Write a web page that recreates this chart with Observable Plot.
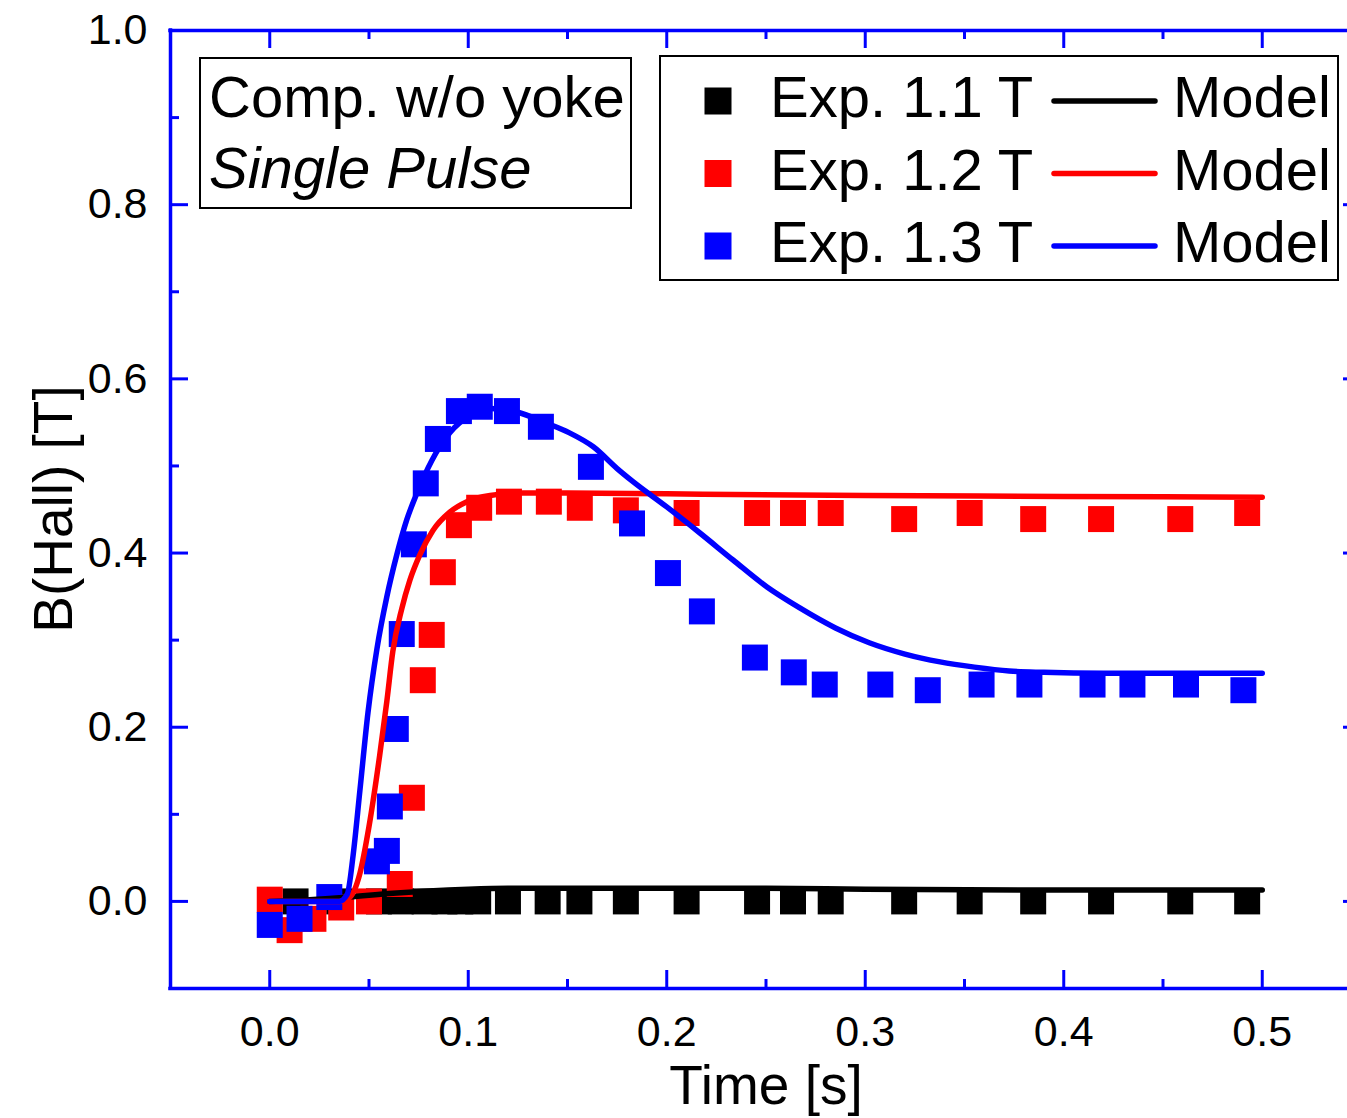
<!DOCTYPE html>
<html><head><meta charset="utf-8">
<script src="https://cdn.jsdelivr.net/npm/d3@7"></script>
<script src="https://cdn.jsdelivr.net/npm/@observablehq/plot@0.6"></script>
<style>html,body{margin:0;padding:0;background:#fff;} svg{display:block}</style>
</head><body><div id="chart"></div><script>
// ---- data ----
const seriesNames = ["Exp. 1.1 T", "Exp. 1.2 T", "Exp. 1.3 T"];
const modelName = "Model";
const seriesColors = ["#000000", "#ff0000", "#0000ff"];

const exp11X = [0.013, 0.035, 0.055, 0.066, 0.078, 0.088, 0.096, 0.105, 0.120, 0.140, 0.156, 0.1794, 0.210, 0.2455, 0.2636, 0.2826, 0.3196, 0.3526, 0.3846, 0.4188, 0.4587, 0.4924];
const exp11Y = [0.000, 0.000, 0.000, 0.000, 0.000, 0.000, 0.000, 0.000, 0.000, 0.000, 0.000, 0.000, 0.000, 0.000, 0.000, 0.000, 0.000, 0.000, 0.000, 0.000, 0.000, 0.000];

const exp12X = [0.000, 0.010, 0.022, 0.036, 0.050, 0.0655, 0.0716, 0.0771, 0.0816, 0.0872, 0.0953, 0.1055, 0.1205, 0.1406, 0.1562, 0.1794, 0.210, 0.2455, 0.2636, 0.2826, 0.3196, 0.3526, 0.3846, 0.4188, 0.4587, 0.4924];
const exp12Y = [0.002, -0.033, -0.020, -0.007, 0.000, 0.020, 0.119, 0.254, 0.306, 0.378, 0.432, 0.452, 0.459, 0.459, 0.452, 0.449, 0.446, 0.446, 0.446, 0.446, 0.439, 0.446, 0.439, 0.439, 0.439, 0.446];

const exp13X = [0.000, 0.015, 0.030, 0.054, 0.059, 0.0605, 0.0635, 0.0665, 0.0726, 0.0786, 0.0847, 0.0953, 0.1058, 0.1195, 0.1366, 0.1618, 0.1825, 0.2006, 0.2177, 0.2444, 0.264, 0.2796, 0.3076, 0.3315, 0.3586, 0.3827, 0.4145, 0.4346, 0.4616, 0.4905];
const exp13Y = [-0.027, -0.020, 0.005, 0.046, 0.058, 0.109, 0.198, 0.307, 0.410, 0.480, 0.531, 0.563, 0.568, 0.563, 0.545, 0.499, 0.434, 0.377, 0.333, 0.280, 0.263, 0.249, 0.249, 0.2425, 0.249, 0.249, 0.249, 0.249, 0.249, 0.2425];

const model11X = [0, 0.02, 0.04, 0.06, 0.08, 0.10, 0.12, 0.15, 0.20, 0.25, 0.30, 0.40, 0.50];
const model11Y = [0, 0.002, 0.005, 0.009, 0.012, 0.014, 0.015, 0.015, 0.015, 0.015, 0.014, 0.013, 0.013];

const model12X = [0, 0.035, 0.040, 0.0454, 0.050, 0.0554, 0.059, 0.062, 0.0665, 0.0706, 0.0756, 0.0822, 0.0907, 0.0993, 0.111, 0.1275, 0.15, 0.20, 0.30, 0.40, 0.50];
const model12Y = [0, 0.000, 0.004, 0.032, 0.086, 0.168, 0.230, 0.287, 0.336, 0.369, 0.398, 0.426, 0.447, 0.459, 0.466, 0.469, 0.469, 0.468, 0.466, 0.465, 0.464];

const model13X = [0, 0.035, 0.039, 0.042, 0.0454, 0.0495, 0.054, 0.059, 0.064, 0.069, 0.074, 0.0816, 0.0907, 0.1008, 0.111, 0.1245, 0.1396, 0.151, 0.163, 0.175, 0.183, 0.200, 0.2167, 0.2334, 0.2505, 0.267, 0.285, 0.302, 0.320, 0.3377, 0.355, 0.3725, 0.39, 0.42, 0.45, 0.50];
const model13Y = [0, 0.000, 0.008, 0.053, 0.127, 0.217, 0.290, 0.350, 0.398, 0.438, 0.468, 0.506, 0.538, 0.558, 0.566, 0.562, 0.549, 0.538, 0.522, 0.497, 0.482, 0.453, 0.423, 0.392, 0.361, 0.337, 0.314, 0.297, 0.284, 0.275, 0.269, 0.2645, 0.263, 0.262, 0.262, 0.262];

const xDomain = [-0.05, 0.55];
const yDomain = [-0.1, 1.0];
const xMajor = [0, 0.1, 0.2, 0.3, 0.4, 0.5];
const xMinor = [0.05, 0.15, 0.25, 0.35, 0.45];
const yMajor = [0, 0.2, 0.4, 0.6, 0.8];
const yMinor = [0.1, 0.3, 0.5, 0.7, 0.9];
const yLabels = [0, 0.2, 0.4, 0.6, 0.8, 1.0];
const xTitle = "Time [s]";
const yTitle = "B(Hall) [T]";
const noteLines = ["Comp. w/o yoke", "Single Pulse"];

// ---- build ----
const FONT = "'Liberation Sans', Arial, Helvetica, sans-serif";
const BLUE = "#0000ff";
const zip = (xs, ys) => xs.map((x, i) => ({x, y: ys[i]}));
const expData = [zip(exp11X, exp11Y), zip(exp12X, exp12Y), zip(exp13X, exp13Y)];
const modelData = [zip(model11X, model11Y), zip(model12X, model12Y), zip(model13X, model13Y)];

const SQ = 26; // square side px
const rSq = SQ / Math.sqrt(Math.PI);
const MAJ = 18, MIN = 9;

function legendMark(index, scales, values, dimensions) {
  const {marginTop, marginBottom, height} = dimensions;
  const g = d3.create("svg:g").attr("font-family", FONT).attr("fill", "black").attr("text-anchor", "start");
  // y title
  g.append("text").attr("text-anchor", "middle").attr("font-size", 55)
    .attr("transform", `translate(72,${(marginTop + height - marginBottom) / 2}) rotate(-90)`).text(yTitle);
  // note box
  g.append("rect").attr("x", 200).attr("y", 58).attr("width", 431).attr("height", 150)
    .attr("fill", "white").attr("stroke", "black").attr("stroke-width", 2);
  g.append("text").attr("x", 209).attr("y", 117).attr("font-size", 58).text(noteLines[0]);
  g.append("text").attr("x", 209).attr("y", 188).attr("font-size", 58).attr("font-style", "italic").text(noteLines[1]);
  // series legend
  g.append("rect").attr("x", 660).attr("y", 56).attr("width", 678).attr("height", 224)
    .attr("fill", "white").attr("stroke", "black").attr("stroke-width", 2);
  seriesNames.forEach((name, i) => {
    const cy = 101 + 72.5 * i;
    g.append("rect").attr("x", 718 - 13.5).attr("y", cy - 13.5).attr("width", 27).attr("height", 27).attr("fill", seriesColors[i]);
    g.append("text").attr("x", 770).attr("y", cy + 16).attr("font-size", 58).text(name);
    g.append("line").attr("x1", 1054).attr("x2", 1155).attr("y1", cy).attr("y2", cy)
      .attr("stroke", seriesColors[i]).attr("stroke-width", 5.5).attr("stroke-linecap", "round");
    g.append("text").attr("x", 1173).attr("y", cy + 16).attr("font-size", 58).text(modelName);
  });
  return g.node();
}

const marks = [];
// experimental squares
expData.forEach((d, i) => marks.push(Plot.dot(d, {x: "x", y: "y", symbol: "square", r: rSq, fill: seriesColors[i], stroke: null})));
// model lines
modelData.forEach((d, i) => marks.push(Plot.line(d, {x: "x", y: "y", stroke: seriesColors[i], strokeWidth: 5.5, curve: "monotone-x", strokeLinecap: "round", strokeLinejoin: "round"})));
// frame (blue)
marks.push(Plot.ruleX(xDomain, {x: d => d, y1: yDomain[0], y2: yDomain[1], stroke: BLUE, strokeWidth: 3.5, strokeLinecap: "square"}));
marks.push(Plot.ruleY(yDomain, {y: d => d, x1: xDomain[0], x2: xDomain[1], stroke: BLUE, strokeWidth: 3.5, strokeLinecap: "square"}));
// inward ticks
const tk = {stroke: BLUE, strokeWidth: 3};
[[yMajor, MAJ], [yMinor, MIN]].forEach(([ts, L]) => {
  marks.push(Plot.ruleY(ts, {y: d => d, x1: xDomain[0], x2: xDomain[0], insetRight: -L, ...tk}));
  marks.push(Plot.ruleY(ts, {y: d => d, x1: xDomain[1], x2: xDomain[1], insetLeft: -L, ...tk}));
});
[[xMajor, MAJ], [xMinor, MIN]].forEach(([ts, L]) => {
  marks.push(Plot.ruleX(ts, {x: d => d, y1: yDomain[0], y2: yDomain[0], insetTop: -L, ...tk}));
  marks.push(Plot.ruleX(ts, {x: d => d, y1: yDomain[1], y2: yDomain[1], insetBottom: -L, ...tk}));
});
// tick labels
marks.push(Plot.axisY(yLabels, {tickSize: 0, tickPadding: 23, tickFormat: d3.format(".1f"), fontSize: 43, label: null}));
marks.push(Plot.axisX(xMajor, {tickSize: 0, tickPadding: 27, tickFormat: d3.format(".1f"), fontSize: 43, label: null}));
// x title
marks.push(Plot.text([xTitle], {text: d => d, frameAnchor: "bottom", dx: 7, dy: 98, fontSize: 55, lineAnchor: "middle"}));
// legends + y title
marks.push(legendMark);

const chart = Plot.plot({
  width: 1347,
  height: 1118,
  marginLeft: 170,
  marginRight: 0,
  marginTop: 30,
  marginBottom: 130,
  style: {fontFamily: FONT, fontSize: "43px", background: "white", color: "black", overflow: "hidden"},
  x: {domain: xDomain, range: [170, 1361], axis: null},
  y: {domain: yDomain, range: [988, 30], axis: null},
  marks
});
document.getElementById("chart").appendChild(chart);
</script></body></html>
